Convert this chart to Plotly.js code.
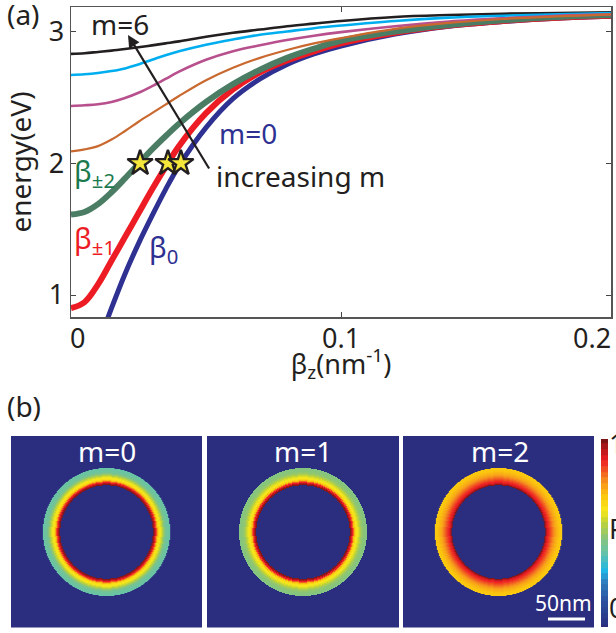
<!DOCTYPE html>
<html><head><meta charset="utf-8">
<script src="https://cdn.plot.ly/plotly-3.0.1.min.js"></script>
<style>html,body{margin:0;padding:0;background:#fff;overflow:hidden}</style>
</head><body><div id="chart" style="width:616px;height:633px"></div>
<script>
// Panel (a): dispersion curves
const betaZ = [0,.005,.01,.015,.02,.025,.03,.035,.04,.05,.06,.07,.08,.09,.1,.12,.14,.16,.18,.2];
const m0 = [null,null,.62,.90,1.16,1.39,1.60,1.80,1.98,2.27,2.49,2.64,2.75,2.83,2.89,2.98,3.04,3.075,3.10,3.115];
const m1 = [.90,.945,1.08,1.26,1.44,1.62,1.80,1.97,2.13,2.38,2.56,2.69,2.78,2.85,2.91,2.99,3.045,3.08,3.105,3.12];
const m2 = [1.61,1.63,1.69,1.78,1.885,1.995,2.105,2.205,2.30,2.465,2.60,2.71,2.80,2.87,2.93,3.0,3.05,3.085,3.11,3.125];
const m3 = [2.09,2.105,2.13,2.18,2.245,2.315,2.38,2.445,2.51,2.63,2.725,2.80,2.86,2.91,2.95,3.02,3.065,3.095,3.115,3.13];
const m4 = [2.435,2.44,2.448,2.465,2.495,2.535,2.585,2.64,2.695,2.785,2.85,2.895,2.935,2.968,2.995,3.04,3.075,3.10,3.12,3.13];
const m5 = [2.67,2.675,2.685,2.70,2.72,2.75,2.785,2.82,2.85,2.90,2.94,2.975,3.0,3.025,3.045,3.08,3.105,3.12,3.13,3.14];
const m6 = [2.83,2.835,2.845,2.855,2.867,2.88,2.895,2.91,2.925,2.96,2.99,3.015,3.04,3.06,3.08,3.11,3.125,3.135,3.14,3.145];
const starX = [.0256,.0359,.0407];
const starY = [2,2,2];
// Panel (b): radial field profile, inner edge outwards, one value per 1px ring
const profile0 = [.99,.95,.89,.82,.72,.65,.63,.61,.58,.54,.50,.46,.43,.42,.41,.41,.40,.40,.40];
const profile1 = [.99,.95,.89,.82,.72,.66,.63,.61,.59,.56,.53,.50,.49,.48,.47,.47,.46,.46,.46];
const profile2 = [.99,.93,.90,.88,.86,.84,.82,.80,.78,.76,.74,.73,.72,.71,.70,.70,.69,.69,.69];
const panelLabels = ['m=0','m=1','m=2'];
const colorLevels = [0,.03,.06,.09,.12,.15,.18,.21,.24,.27,.30,.33,.36,.39,.42,.45,.48,.51,.54,.57,.60,.63,.66,.69,.72,.75,.78,.81,.84,.87,.90,.93,.96,1];

const W=616,H=633;
const BLUE='#2e3192',RED='#ed1c24',GREEN='#4a7d64',LABELGREEN='#1b7a4d',INK='#231f20';
const jet=[[0,'#2b2e7f'],[.15,'#2b55a3'],[.24,'#2f80c0'],[.30,'#1fb6e6'],[.39,'#63c2ab'],[.48,'#8cc576'],[.56,'#c3d433'],[.62,'#f7e81a'],[.70,'#fcc60f'],[.78,'#f58a1f'],[.89,'#ed1c24'],[1,'#7c1416']];

function ringField(profile){
  const n=192,c=95.5,rIn=46.7,rOut=64,z=[];
  for(let j=0;j<n;j++){const row=[];for(let i=0;i<n;i++){
    const r=Math.hypot(i-c,j-c);
    row.push(r<rIn||r>rOut?0:profile[Math.min(profile.length-1,Math.floor(r-rIn))]);
  }z.push(row);}
  return z;
}
const line=(y,color,width)=>({type:'scatter',mode:'lines',x:betaZ,y:y,line:{color:color,width:width,shape:'spline',smoothing:1},hoverinfo:'skip',showlegend:false});
const data=[
  line(m0,BLUE,5),line(m1,RED,6),line(m2,GREEN,6),
  line(m6,INK,2.6),line(m5,'#00aeef',2.6),line(m4,'#b8508e',2.6),line(m3,'#c9692f',2.2),
  {type:'scatter',mode:'markers',x:starX,y:starY,marker:{symbol:'star',size:19,color:'#f4e63a',line:{color:'#231f20',width:2.4}},hoverinfo:'skip',showlegend:false}
];
[profile0,profile1,profile2].forEach((p,i)=>{
  const k=i+2;
  data.push({type:'heatmap',z:ringField(p),xaxis:'x'+k,yaxis:'y'+k,zmin:0,zmax:1,zsmooth:'fast',colorscale:jet,showscale:false,hoverinfo:'skip'});
});
data.push({type:'heatmap',z:colorLevels.map(v=>[v]),y:colorLevels,x:[0],xaxis:'x5',yaxis:'y5',zmin:0,zmax:1,colorscale:jet,showscale:false,hoverinfo:'skip'});

const px=(a,b)=>[a/W,b/W], py=(top,bot)=>[1-bot/H,1-top/H];
const hid=(dom,extra)=>Object.assign({domain:dom,showgrid:false,zeroline:false,showticklabels:false,ticks:'',showline:false,constrain:'domain'},extra||{});
const panels=[[11,202],[207,399],[403,594]];
const layout={
  width:W,height:H,margin:{l:0,r:0,t:0,b:0},paper_bgcolor:'#fff',plot_bgcolor:'#fff',
  font:{family:'"Noto Sans",sans-serif',color:INK},showlegend:false,
  xaxis:{domain:px(71,611),range:[0,.2],tickvals:[0,.1,.2],showticklabels:false,ticks:'inside',ticklen:5,tickcolor:'#444',tickwidth:1,
    showline:true,linecolor:'#555',linewidth:1.5,mirror:'ticks',showgrid:false,zeroline:false,
    title:{text:'β<sub>z</sub>(nm<sup>-1</sup>)',font:{size:27,color:INK},standoff:37}},
  yaxis:{domain:py(7,317),range:[.833,3.186],tickvals:[1,2,3],ticks:'inside',ticklen:5,tickcolor:'#444',tickwidth:1,tickfont:{size:27,color:INK},
    showline:true,linecolor:'#555',linewidth:1.5,mirror:'ticks',showgrid:false,zeroline:false,
    title:{text:'energy(eV)',font:{size:28,color:INK},standoff:9}},
  xaxis5:hid(px(601,608),{range:[-.5,.5],anchor:'y5'}),
  yaxis5:{domain:py(439,627),range:[0,1],anchor:'x5',side:'right',tickvals:[.1,.516,.973],ticktext:['0','P','1'],tickfont:{size:27,color:INK},ticks:'',showgrid:false,zeroline:false,showline:false},
  shapes:[{type:'line',xref:'paper',yref:'paper',x0:548/W,x1:585/W,y0:1-619/H,y1:1-619/H,line:{color:'#fff',width:3}}],
  annotations:[]
};
panels.forEach((p,i)=>{
  const k=i+2;
  layout['xaxis'+k]=hid(px(p[0],p[1]),{range:[-.5,191.5],anchor:'y'+k});
  layout['yaxis'+k]=hid(py(436,627.5),{range:[-.5,191.5],anchor:'x'+k});
});
const txt=(text,x,y,size,color,anchor)=>layout.annotations.push({xref:'paper',yref:'paper',x:x/W,y:1-y/H,text:text,showarrow:false,xanchor:anchor||'center',yanchor:'middle',font:{size:size,color:color||INK},borderpad:0});
txt('(a)',6,14,28,INK,'left');
txt('(b)',6,406,28,INK,'left');
txt('0',78,337,27);
txt('0.1',341,337,27);
txt('0.2',612,337,27,INK,'right');
txt('m=6',120,24,28);
txt('m=0',248,133,28,BLUE);
txt('increasing m',300,176,28);
txt('β<sub>±2</sub>',73,172,29,LABELGREEN,'left');
txt('β<sub>±1</sub>',73,240,29,RED,'left');
txt('β<sub>0</sub>',148,248,29,BLUE,'left');
panelLabels.forEach((t,i)=>txt(t,[107,303,500][i],451,28,'#fff'));
txt('50nm',563,603,21,'#fff');
layout.annotations.push({xref:'paper',yref:'paper',axref:'paper',ayref:'paper',x:128/W,y:1-35/H,ax:210/W,ay:1-170/H,text:'',showarrow:true,arrowhead:2,arrowsize:1.1,arrowwidth:2.2,arrowcolor:INK});
Plotly.newPlot('chart',data,layout,{staticPlot:true,displayModeBar:false});
</script></body></html>
